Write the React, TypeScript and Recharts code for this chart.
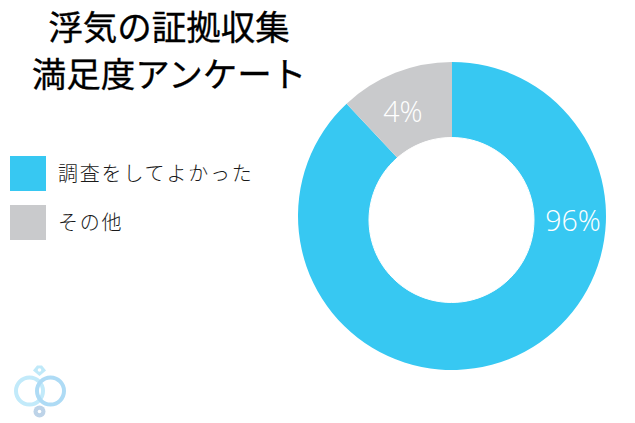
import React from "react";
import { PieChart, Pie, Cell } from "recharts";

const categories = ["調査をしてよかった", "その他"];
const sliceValues = [88, 12];
const labelTexts = ["96%", "4%"];
const labelAngles = [-2.0, 115];
const labelRadii = [121, 116];
const colors = ["#37c8f2", "#c9cacc"];
const titleLines = ["浮気の証拠収集", "満足度アンケート"];
const holeData = [{ name: "hole", value: 1 }];

const font = "'Noto Sans CJK JP', 'Noto Sans', sans-serif";
const data = categories.map((name, i) => ({ name, value: sliceValues[i] }));

const renderLabel = (p: any) => {
  const i = p.index;
  const a = (labelAngles[i] * Math.PI) / 180;
  return (
    <text
      x={p.cx + labelRadii[i] * Math.cos(a)}
      y={p.cy - labelRadii[i] * Math.sin(a)}
      fill="#ffffff"
      fontFamily="'Open Sans', 'Noto Sans', sans-serif"
      fontWeight={300}
      fontSize={28.5}
      textAnchor="middle"
      dominantBaseline="central"
    >
      {labelTexts[i]}
    </text>
  );
};

export default function App() {
  return (
    <div style={{ position: "absolute", left: 0, top: 0, width: 635, height: 423, background: "#fff", overflow: "hidden" }}>
      <PieChart width={635} height={423} margin={{ top: 0, right: 0, bottom: 0, left: 0 }}>
        <Pie
          data={data}
          dataKey="value"
          cx={452}
          cy={216}
          innerRadius={0}
          outerRadius={154}
          startAngle={90}
          endAngle={-270}
          stroke="none"
          isAnimationActive={false}
          label={renderLabel}
          labelLine={false}
        >
          {data.map((d, i) => (
            <Cell key={d.name} fill={colors[i]} />
          ))}
        </Pie>
        <Pie
          data={holeData}
          dataKey="value"
          cx={451.5}
          cy={220}
          innerRadius={0}
          outerRadius={82.5}
          startAngle={90}
          endAngle={-270}
          stroke="#ffffff"
          strokeWidth={1}
          fill="#ffffff"
          isAnimationActive={false}
        />
      </PieChart>

      {titleLines.map((t, i) => (
        <div
          key={t}
          style={{
            position: "absolute",
            left: 0,
            width: 338,
            top: 0.5 + i * 47,
            textAlign: "center",
            fontFamily: font,
            fontSize: 34.5,
            fontWeight: 400,
            lineHeight: "48px",
            color: "#000",
            WebkitTextStroke: "0.3px #000",
            whiteSpace: "nowrap",
          }}
        >
          {t}
        </div>
      ))}

      {categories.map((c, i) => (
        <React.Fragment key={c}>
          <div style={{ position: "absolute", left: 10, top: 156 + i * 49, width: 36, height: 35, background: colors[i] }} />
          <div
            style={{
              position: "absolute",
              left: 58,
              top: 157 + i * 49,
              fontFamily: font,
              fontWeight: 300,
              fontSize: 20,
              letterSpacing: 1.8,
              lineHeight: "32px",
              color: "#1a1a1a",
              whiteSpace: "nowrap",
            }}
          >
            {c}
          </div>
        </React.Fragment>
      ))}

      <svg style={{ position: "absolute", left: 0, top: 350 }} width={80} height={73}>
        <circle cx={29.5} cy={41} r={13.5} fill="none" stroke="#c2eafa" strokeWidth={4} />
        <circle cx={50.5} cy={41} r={13.5} fill="none" stroke="#aedbf5" strokeWidth={4} />
        <path d="M33 20.5 L37 15.5 L42 15.5 L46 20.5 L39.5 26 Z" fill="#bfe9f9" />
        <circle cx={39.5} cy={61.5} r={6} fill="#bdd3e8" />
        <circle cx={39.5} cy={20} r={1.8} fill="#fff" />
        <circle cx={39.5} cy={61.5} r={1.8} fill="#fff" />
      </svg>
    </div>
  );
}
